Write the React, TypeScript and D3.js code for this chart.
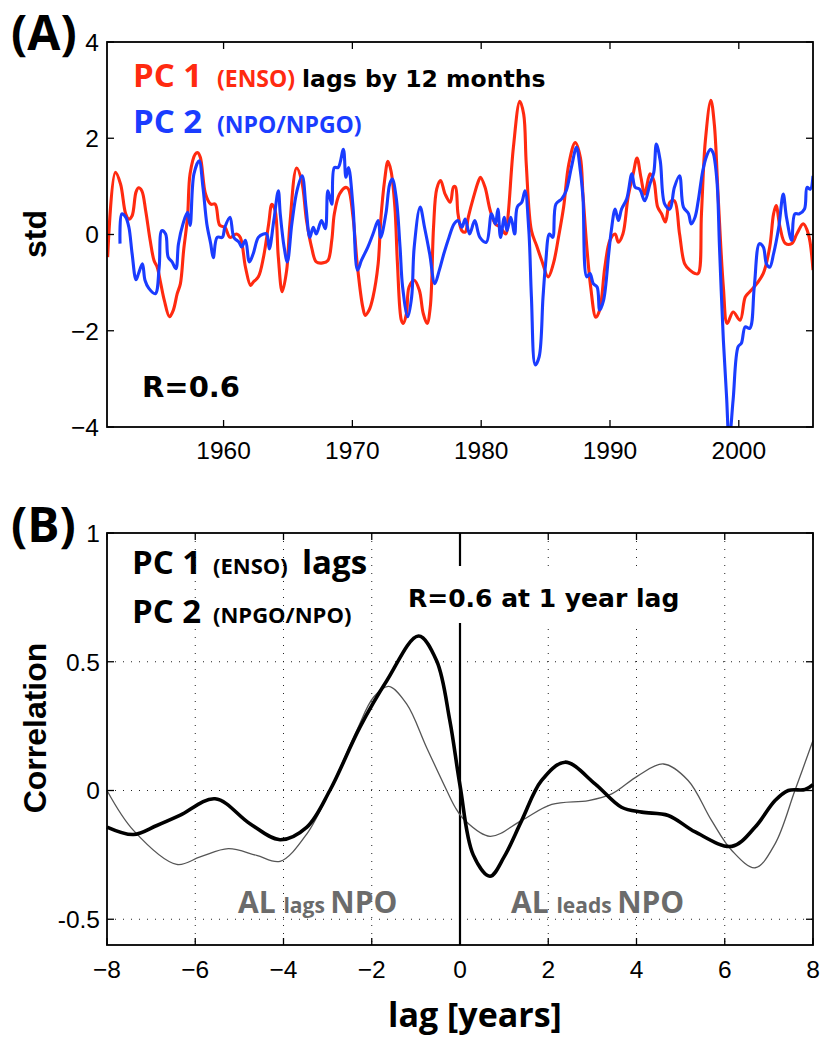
import React from 'react'
import * as d3 from 'd3'

// ---- panel A: PC time series (std) ----
const pc1Enso: [number, number][] = [
  [1951.0, -0.47], [1951.6, 1.29], [1952.0, 1.05], [1952.4, 0.43], [1952.65, 0.32], [1952.9, 0.39],
  [1953.2, 0.88], [1953.4, 0.97], [1953.65, 0.91], [1953.95, 0.5], [1954.3, -0.12], [1954.6, -0.54],
  [1954.85, -0.68], [1955.1, -0.99], [1955.4, -1.37], [1955.8, -1.71], [1956.1, -1.57], [1956.4, -1.23],
  [1956.65, -1.02], [1956.9, -0.33], [1957.2, 0.36], [1957.4, 1.26], [1957.8, 1.67], [1958.0, 1.7],
  [1958.2, 1.6], [1958.6, 0.84], [1959.0, 0.63], [1959.35, 0.63], [1959.7, 0.19], [1960.1, 0.15],
  [1960.5, -0.06], [1961.0, 0.01], [1961.3, -0.06], [1961.7, -0.68], [1962.1, -1.06], [1962.3, -0.99],
  [1962.7, -0.88], [1963.1, -0.47], [1963.5, 0.22], [1963.75, 0.63], [1964.0, 0.5], [1964.25, -0.47],
  [1964.55, -1.19], [1964.9, -0.74], [1965.15, 0.22], [1965.67, 1.38], [1966.06, 1.12], [1966.44, 0.29],
  [1966.83, -0.26], [1967.2, -0.57], [1967.7, -0.59], [1968.1, -0.54], [1968.4, -0.12], [1968.6, 0.43],
  [1969.0, 0.84], [1969.5, 0.98], [1969.7, 0.94], [1970.05, 0.36], [1970.4, -0.68], [1970.8, -1.5],
  [1971.0, -1.68], [1971.3, -1.57], [1971.6, -1.3], [1972.0, -0.61], [1972.2, 0.29], [1972.5, 1.12],
  [1972.76, 1.52], [1973.0, 1.32], [1973.3, 0.57], [1973.5, -0.61], [1973.8, -1.78], [1973.95, -1.85],
  [1974.2, -1.64], [1974.4, -1.09], [1974.8, -0.95], [1975.2, -1.16], [1975.5, -1.64], [1975.8, -1.85],
  [1976.05, -1.5], [1976.3, 0.15], [1976.55, 0.95], [1976.85, 1.12], [1977.2, 0.84], [1977.6, 0.67],
  [1977.85, 0.99], [1978.0, 0.99], [1978.2, 0.43], [1978.5, 0.08], [1978.76, 0.05], [1979.0, 0.36],
  [1979.4, 0.77], [1979.8, 1.12], [1979.95, 1.19], [1980.3, 0.98], [1980.7, 0.5], [1981.1, 0.22],
  [1981.5, 0.15], [1981.9, 0.01], [1982.1, 0.43], [1982.5, 1.81], [1983.0, 2.77], [1983.3, 2.5],
  [1983.5, 1.46], [1983.9, 0.08], [1984.3, -0.23], [1984.7, -0.54], [1985.2, -0.88], [1985.6, -0.61],
  [1986.0, -0.06], [1986.4, 0.57], [1986.8, 1.46], [1987.3, 1.91], [1987.7, 1.6], [1987.9, 0.84],
  [1988.2, -0.26], [1988.5, -1.09], [1988.9, -1.72], [1989.2, -1.57], [1989.6, -0.68], [1990.0, -0.12],
  [1990.4, 0.01], [1990.65, -0.16], [1991.0, 0.01], [1991.4, 0.77], [1991.8, 1.26], [1992.1, 1.59],
  [1992.4, 1.19], [1992.7, 0.84], [1993.1, 1.26], [1993.4, 1.12], [1993.7, 0.57], [1994.0, 0.43],
  [1994.3, 0.26], [1994.65, 0.67], [1995.0, 0.7], [1995.4, 0.01], [1995.8, -0.61], [1996.2, -0.74],
  [1996.6, -0.81], [1996.85, -0.81], [1997.1, 0.43], [1997.4, 1.94], [1997.83, 2.79], [1998.1, 2.29],
  [1998.4, 0.77], [1998.8, -1.09], [1999.1, -1.85], [1999.56, -1.61], [2000.1, -1.78], [2000.5, -1.3],
  [2000.85, -1.19], [2001.4, -1.02], [2001.9, -0.81], [2002.4, -0.26], [2002.7, 0.43], [2002.9, 0.6],
  [2003.2, 0.15], [2003.6, -0.18], [2004.1, -0.19], [2004.5, 0.01], [2005.0, 0.22], [2005.4, 0.01],
  [2005.76, -0.74],
]

const pc2Npo: [number, number][] = [
  [1951.96, -0.19], [1952.1, 0.43], [1952.4, 0.36], [1952.65, 0.15], [1952.9, -0.4], [1953.2, -0.94],
  [1953.4, -0.81], [1953.7, -0.61], [1953.9, -0.95], [1954.2, -1.12], [1954.7, -1.23], [1955.0, -0.68],
  [1955.2, 0.08], [1955.5, 0.01], [1955.7, -0.47], [1956.0, -0.57], [1956.3, -0.71], [1956.5, -0.19],
  [1956.85, 0.22], [1957.2, 0.46], [1957.4, 0.19], [1957.7, 1.26], [1958.1, 1.53], [1958.4, 0.98],
  [1958.7, 0.22], [1959.0, -0.19], [1959.2, -0.48], [1959.5, -0.06], [1959.9, -0.06], [1960.1, 0.15],
  [1960.5, 0.36], [1960.8, -0.06], [1961.2, -0.16], [1961.4, -0.26], [1961.7, -0.12], [1962.0, -0.57],
  [1962.3, -0.4], [1962.7, -0.06], [1963.1, 0.01], [1963.35, 0.01], [1963.55, -0.3], [1963.9, 0.29],
  [1964.25, 0.91], [1964.4, 0.43], [1964.7, -0.26], [1964.95, -0.57], [1965.3, 0.22], [1965.7, 0.91],
  [1966.1, 1.22], [1966.4, 0.57], [1966.7, -0.06], [1966.96, 0.15], [1967.2, 0.01], [1967.6, 0.29],
  [1967.9, 0.12], [1968.1, 0.91], [1968.4, 0.63], [1968.6, 1.39], [1968.9, 1.39], [1969.3, 1.77],
  [1969.5, 1.19], [1969.7, 1.39], [1970.05, 0.57], [1970.4, -0.74], [1970.7, -0.54], [1971.2, -0.26],
  [1971.6, 0.01], [1972.0, 0.29], [1972.2, -0.06], [1972.6, 0.43], [1972.9, 1.05], [1973.1, 1.15],
  [1973.4, 0.77], [1973.7, -0.26], [1973.9, -1.09], [1974.3, -1.71], [1974.6, -1.3], [1974.8, -0.26],
  [1975.26, 0.57], [1975.6, 0.15], [1976.0, -0.4], [1976.4, -1.02], [1976.75, -0.74], [1977.1, -0.4],
  [1977.5, -0.06], [1977.9, 0.22], [1978.2, 0.29], [1978.5, 0.15], [1978.76, 0.32], [1979.1, 0.01],
  [1979.5, 0.29], [1979.9, -0.06], [1980.4, -0.16], [1980.8, 0.43], [1981.1, 0.22], [1981.3, 0.53],
  [1981.5, -0.06], [1981.8, 0.36], [1982.0, 0.08], [1982.3, 0.36], [1982.6, 0.01], [1982.8, 0.57],
  [1983.15, 0.67], [1983.4, 0.91], [1983.7, 0.08], [1983.9, -1.3], [1984.2, -2.71], [1984.5, -2.54],
  [1984.8, -1.3], [1985.0, -0.61], [1985.3, 0.01], [1985.55, -0.06], [1985.8, 0.63], [1986.25, 0.74],
  [1986.6, 0.91], [1987.0, 1.39], [1987.4, 1.81], [1987.7, 1.32], [1987.9, 0.77], [1988.2, -0.88],
  [1988.45, -0.81], [1988.7, -1.02], [1989.0, -1.09], [1989.2, -1.57], [1989.5, -1.37], [1989.9, -0.4],
  [1990.1, 0.08], [1990.4, 0.53], [1990.65, 0.29], [1990.9, 0.53], [1991.3, 0.74], [1991.7, 1.26],
  [1991.95, 0.98], [1992.3, 0.94], [1992.7, 0.7], [1993.1, 1.05], [1993.4, 1.29], [1993.6, 1.88],
  [1993.9, 1.53], [1994.25, 0.63], [1994.65, 0.53], [1995.0, 0.98], [1995.4, 1.22], [1995.7, 0.57],
  [1996.1, 0.43], [1996.3, 0.22], [1996.6, 0.36], [1996.85, 0.7], [1997.2, 1.32], [1997.5, 1.63],
  [1997.8, 1.77], [1998.0, 1.7], [1998.3, 1.12], [1998.5, -0.26], [1998.8, -2.19], [1999.05, -3.37],
  [1999.25, -4.3], [1999.56, -3.43], [1999.95, -2.33], [2000.2, -2.26], [2000.5, -1.92], [2000.85, -1.95],
  [2001.2, -1.09], [2001.6, -0.19], [2001.9, -0.26], [2002.15, -0.61], [2002.4, -0.68], [2002.7, -0.4],
  [2003.1, 0.15], [2003.45, 0.84], [2003.7, 0.36], [2004.1, -0.12], [2004.35, 0.43], [2004.7, 0.43],
  [2005.1, 0.53], [2005.3, 0.98], [2005.55, 0.94], [2005.76, 1.22],
]

const yearTicks = [1960, 1970, 1980, 1990, 2000]
const stdTicks = [-4, -2, 0, 2, 4]

// ---- panel B: lagged correlation ----
const corrThick: [number, number][] = [
  [-8, -0.142], [-7.4, -0.171], [-6.87, -0.136], [-6.35, -0.097], [-5.55, -0.032], [-4.76, -0.129],
  [-4.08, -0.191], [-3.47, -0.142], [-2.95, 0], [-2.27, 0.245], [-1.66, 0.426], [-0.94, 0.6],
  [-0.53, 0.504], [-0.23, 0.271], [0, 0.02], [0.3, -0.25], [0.68, -0.333], [1.0, -0.258],
  [1.4, -0.116], [1.85, 0.039], [2.38, 0.11], [3.06, 0.026], [3.66, -0.065], [4.12, -0.084],
  [4.72, -0.097], [5.33, -0.161], [6.16, -0.217], [6.69, -0.142], [7.14, -0.039], [7.44, 0.0],
  [7.82, 0.004], [8, 0.023],
]

const corrThin: [number, number][] = [
  [-8, 0], [-7.4, -0.155], [-6.42, -0.287], [-5.89, -0.258], [-5.25, -0.226], [-4.61, -0.252],
  [-4.08, -0.275], [-3.47, -0.168], [-2.95, 0], [-2.34, 0.233], [-1.96, 0.362], [-1.62, 0.404],
  [-1.21, 0.336], [-0.76, 0.168], [-0.3, 0], [-0.11, -0.065], [0.11, -0.116], [0.68, -0.178],
  [1.4, -0.116], [2.08, -0.054], [2.91, -0.039], [3.44, -0.013], [4.04, 0.058], [4.61, 0.103],
  [5.17, 0.039], [5.7, -0.116], [6.16, -0.233], [6.69, -0.3], [7.14, -0.207], [7.59, 0], [8, 0.194],
]

const lagTicks = [-8, -6, -4, -2, 0, 2, 4, 6, 8]
const corrTicks = [-0.5, 0, 0.5, 1]
const corrLabels = ['-0.5', '0', '0.5', '1']

const red = '#ff2a10'
const blue = '#1a3cff'
const gray = '#6b6b6b'
const sans = 'Liberation Sans, Arial, sans-serif'
const human = 'Open Sans, sans-serif'
const dejavu = 'DejaVu Sans, sans-serif'

const left = 107
const right = 813

export default function App() {
  const xA = d3.scaleLinear().domain([1950.95, 2005.76]).range([left, right])
  const yA = d3.scaleLinear().domain([-4, 4]).range([427, 42])
  const xB = d3.scaleLinear().domain([-8, 8]).range([left, right])
  const yB = d3.scaleLinear().domain([-0.6, 1]).range([945, 533])

  const lineA = d3
    .line<[number, number]>()
    .x(d => xA(d[0]))
    .y(d => yA(d[1]))
    .curve(d3.curveCatmullRom.alpha(0.5))
  const lineB = d3
    .line<[number, number]>()
    .x(d => xB(d[0]))
    .y(d => yB(d[1]))
    .curve(d3.curveCatmullRom.alpha(0.5))

  const minus = (v: number) => (v < 0 ? '\u2212' + Math.abs(v) : String(v))

  return (
    <svg
      width={822}
      height={1040}
      style={{ position: 'absolute', left: 0, top: 0, background: '#fff' }}
    >
      <defs>
        <clipPath id="clipA">
          <rect x={left} y={yA(4)} width={right - left} height={yA(-4) - yA(4)} />
        </clipPath>
      </defs>

      {/* ===== Panel A ===== */}
      <text x={11} y={50} fontFamily={human} fontWeight={700} fontSize={48}>
        (A)
      </text>
      <g clipPath="url(#clipA)" fill="none" strokeWidth={3.1} strokeLinejoin="round">
        <path d={lineA(pc1Enso) || ''} stroke={red} />
        <path d={lineA(pc2Npo) || ''} stroke={blue} />
      </g>
      <rect x={left} y={yA(4)} width={right - left} height={yA(-4) - yA(4)} fill="none" stroke="#000" strokeWidth={1.8} />
      {yearTicks.map(t => (
        <g key={t}>
          <line x1={xA(t)} x2={xA(t)} y1={yA(-4)} y2={yA(-4) - 7} stroke="#000" strokeWidth={1.3} />
          <line x1={xA(t)} x2={xA(t)} y1={yA(4)} y2={yA(4) + 7} stroke="#000" strokeWidth={1.3} />
          <text x={xA(t)} y={459} textAnchor="middle" fontFamily={sans} fontSize={24.5}>
            {t}
          </text>
        </g>
      ))}
      {stdTicks.map(t => (
        <g key={t}>
          <line x1={left} x2={left + 7} y1={yA(t)} y2={yA(t)} stroke="#000" strokeWidth={1.3} />
          <line x1={right} x2={right - 7} y1={yA(t)} y2={yA(t)} stroke="#000" strokeWidth={1.3} />
          <text x={99} y={yA(t)} dy="0.36em" textAnchor="end" fontFamily={sans} fontSize={24.5}>
            {minus(t)}
          </text>
        </g>
      ))}
      <text transform="translate(46,234) rotate(-90)" textAnchor="middle" fontFamily={sans} fontWeight={700} fontSize={32}>
        std
      </text>
      <text y={87} fontFamily={human} fontWeight={700}>
        <tspan x={133} fill={red} fontSize={33}>PC 1</tspan>
        <tspan x={217} fill={red} fontSize={23}>(ENSO)</tspan>
        <tspan x={302} fill="#000" fontSize={23.5} fontFamily={dejavu}>lags by 12 months</tspan>
      </text>
      <text y={133} fontFamily={human} fontWeight={700}>
        <tspan x={133} fill={blue} fontSize={33}>PC 2</tspan>
        <tspan x={217} fill={blue} fontSize={23}>(NPO/NPGO)</tspan>
      </text>
      <text x={142} y={397} fontFamily={dejavu} fontWeight={700} fontSize={29}>
        R=0.6
      </text>

      {/* ===== Panel B ===== */}
      <text x={11} y={542} fontFamily={human} fontWeight={700} fontSize={48}>
        (B)
      </text>
      <g stroke="#222" strokeWidth={1} strokeDasharray="1,7">
        {lagTicks.filter(t => t !== 0 && Math.abs(t) !== 8).map(t => (
          <line key={t} x1={xB(t)} x2={xB(t)} y1={yB(1)} y2={yB(-0.6)} />
        ))}
        {[-0.5, 0, 0.5].map(t => (
          <line key={t} x1={left} x2={right} y1={yB(t)} y2={yB(t)} />
        ))}
      </g>
      <line x1={xB(0)} x2={xB(0)} y1={yB(1)} y2={yB(-0.6)} stroke="#000" strokeWidth={2.2} />
      <rect x={402} y={566} width={276} height={57} fill="#fff" />
      <text x={408} y={607} fontFamily={dejavu} fontWeight={700} fontSize={25}>
        R=0.6 at 1 year lag
      </text>
      <g fill="none" strokeLinejoin="round">
        <path d={lineB(corrThin) || ''} stroke="#555" strokeWidth={1.3} />
        <path d={lineB(corrThick) || ''} stroke="#000" strokeWidth={3.6} />
      </g>
      <rect x={left} y={yB(1)} width={right - left} height={yB(-0.6) - yB(1)} fill="none" stroke="#000" strokeWidth={1.8} />
      {lagTicks.map(t => (
        <g key={t}>
          <line x1={xB(t)} x2={xB(t)} y1={yB(-0.6)} y2={yB(-0.6) - 7} stroke="#000" strokeWidth={1.3} />
          <line x1={xB(t)} x2={xB(t)} y1={yB(1)} y2={yB(1) + 7} stroke="#000" strokeWidth={1.3} />
          <text x={xB(t)} y={978} textAnchor="middle" fontFamily={sans} fontSize={24.5}>
            {minus(t)}
          </text>
        </g>
      ))}
      {corrTicks.map((t, i) => (
        <g key={t}>
          <line x1={left} x2={left + 7} y1={yB(t)} y2={yB(t)} stroke="#000" strokeWidth={1.3} />
          <line x1={right} x2={right - 7} y1={yB(t)} y2={yB(t)} stroke="#000" strokeWidth={1.3} />
          <text x={100} y={yB(t)} dy="0.36em" textAnchor="end" fontFamily={sans} fontSize={24.5}>
            {corrLabels[i]}
          </text>
        </g>
      ))}
      <text transform="translate(46,728) rotate(-90)" textAnchor="middle" fontFamily={sans} fontWeight={700} fontSize={32}>
        Correlation
      </text>
      <text x={475} y={1027} textAnchor="middle" fontFamily={human} fontWeight={700} fontSize={34}>
        lag [years]
      </text>
      <text y={574} fontFamily={human} fontWeight={700} fill="#000">
        <tspan x={132} fontSize={33}>PC 1</tspan>
        <tspan x={213} fontSize={22}>(ENSO)</tspan>
        <tspan x={302} fontSize={33}>lags</tspan>
      </text>
      <text y={623} fontFamily={human} fontWeight={700} fill="#000">
        <tspan x={132} fontSize={33}>PC 2</tspan>
        <tspan x={213} fontSize={22}>(NPGO/NPO)</tspan>
      </text>
      <text x={238} y={913} fontFamily={human} fontWeight={700} fill={gray}>
        <tspan fontSize={30}>AL </tspan>
        <tspan fontSize={21}>lags </tspan>
        <tspan fontSize={30}>NPO</tspan>
      </text>
      <text x={511} y={913} fontFamily={human} fontWeight={700} fill={gray}>
        <tspan fontSize={30}>AL </tspan>
        <tspan fontSize={21}>leads </tspan>
        <tspan fontSize={30}>NPO</tspan>
      </text>
    </svg>
  )
}
